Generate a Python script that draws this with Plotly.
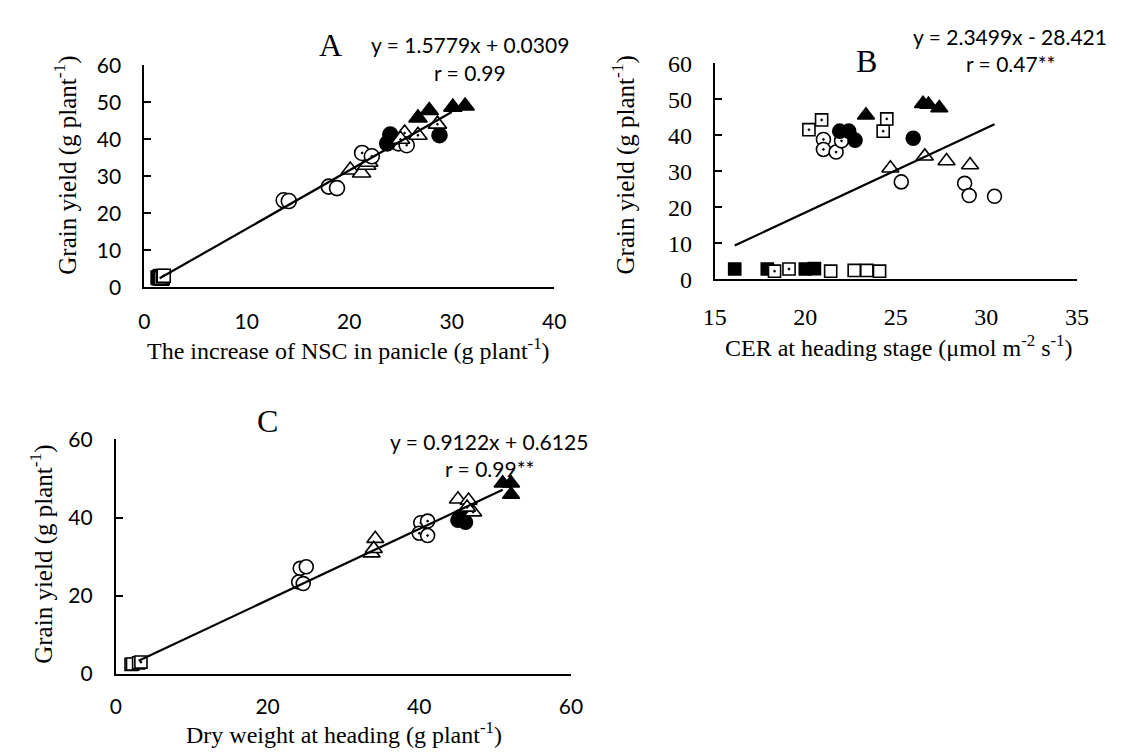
import plotly.graph_objects as go

W, H = 1121, 754

# ---------------- Panel A: increase of NSC in panicle vs grain yield ----------------
A_fsq_x = [1.3, 1.5, 1.4, 1.6]
A_fsq_y = [2.6, 2.9, 2.4, 3.0]
A_osq_x = [1.7, 1.5, 1.8, 1.6]
A_osq_y = [2.3, 2.5, 2.5, 2.4]
A_dsq_x = [1.8, 1.9]
A_dsq_y = [2.9, 3.1]
A_oci_x = [13.6, 14.1, 18.0, 18.8]
A_oci_y = [23.5, 23.3, 27.2, 26.8]
A_otr_x = [20.1, 21.2, 21.7, 21.9]
A_otr_y = [31.7, 30.9, 33.0, 33.8]
A_dci_x = [21.25, 22.2, 24.8, 25.6]
A_dci_y = [36.3, 35.4, 38.9, 38.4]
A_fci_x = [24.0, 23.7, 28.8, 24.1]
A_fci_y = [41.3, 38.9, 41.1, 40.2]
A_dtr_x = [25.4, 26.7, 28.6, 25.0]
A_dtr_y = [41.7, 41.1, 44.1, 40.0]
A_ftr_x = [26.7, 27.8, 30.1, 31.3]
A_ftr_y = [45.8, 47.8, 48.7, 49.0]
A_slope, A_int = 1.5779, 0.0309
A_fit_range = [1.5, 30.0]
A_eq = "y = 1.5779x + 0.0309"
A_r = "r = 0.99"

# ---------------- Panel B: CER at heading vs grain yield ----------------
B_fsq_x = [16.1, 17.9, 20.0, 20.5]
B_fsq_y = [2.9, 2.9, 2.9, 3.0]
B_dsql_x = [18.3, 19.1]
B_dsql_y = [2.3, 2.9]
B_osq_x = [21.4, 22.7, 23.4, 24.1]
B_osq_y = [2.3, 2.5, 2.5, 2.3]
B_dsqh_x = [20.2, 20.9, 24.3, 24.5]
B_dsqh_y = [41.6, 44.3, 41.2, 44.6]
B_dci_x = [21.0, 21.0, 21.7, 22.0]
B_dci_y = [38.9, 36.1, 35.4, 38.5]
B_fci_x = [21.9, 22.4, 22.75, 25.96]
B_fci_y = [41.2, 41.2, 38.7, 39.2]
B_ftr_x = [23.35, 26.5, 26.8, 27.4]
B_ftr_y = [45.6, 48.8, 48.6, 47.6]
B_otr_x = [24.7, 26.6, 27.8, 29.1]
B_otr_y = [30.9, 34.2, 32.9, 31.8]
B_oci_x = [25.3, 28.8, 29.05, 30.45]
B_oci_y = [27.1, 26.7, 23.3, 23.1]
B_slope, B_int = 2.3499, -28.421
B_fit_range = [16.1, 30.45]
B_eq = "y = 2.3499x - 28.421"
B_r = "r = 0.47**"

# ---------------- Panel C: dry weight at heading vs grain yield ----------------
C_osq_x = [2.0, 2.2]
C_osq_y = [2.4, 2.5]
C_dsq_x = [3.0, 3.3]
C_dsq_y = [2.8, 3.0]
C_oci_x = [24.3, 25.1, 24.1, 24.7]
C_oci_y = [27.0, 27.4, 23.5, 23.1]
C_otr_x = [34.2, 33.7, 34.0, 45.1, 46.5]
C_otr_y = [34.6, 30.9, 32.0, 44.7, 44.4]
C_dci_x = [40.2, 41.1, 40.0, 41.1]
C_dci_y = [38.7, 39.1, 36.0, 35.4]
C_fci_x = [45.1, 46.1, 45.4]
C_fci_y = [39.3, 38.8, 40.2]
C_dtr_x = [47.1, 46.3]
C_dtr_y = [41.4, 42.6]
C_ftr_x = [51.0, 52.1, 52.1]
C_ftr_y = [48.8, 48.8, 45.9]
C_slope, C_int = 0.9122, 0.6125
C_fit_range = [3.0, 51.0]
C_eq = "y = 0.9122x + 0.6125"
C_r = "r = 0.99**"

Y_TITLE = "Grain yield (g plant<sup>-1</sup>)"
XA_TITLE = "The increase of NSC in panicle (g plant<sup>-1</sup>)"
XB_TITLE = "CER at heading stage (μmol m<sup>-2</sup> s<sup>-1</sup>)"
XC_TITLE = "Dry weight at heading (g plant<sup>-1</sup>)"

STYLES = {
    "fsq": ("square", "black"),
    "osq": ("square", "white"),
    "dsq": ("square-dot", "white"),
    "oci": ("circle", "white"),
    "dci": ("circle-dot", "white"),
    "fci": ("circle", "black"),
    "otr": ("triangle-up", "white"),
    "dtr": ("triangle-up-dot", "white"),
    "ftr": ("triangle-up", "black"),
}
SIZES = {"sq": 13, "ci": 15, "tr": 16}

fig = go.Figure()


def add_pts(x, y, kind, xa, ya, scale=1.0):
    sym, col = STYLES[kind]
    fig.add_trace(go.Scatter(
        x=x, y=y, mode="markers", xaxis=xa, yaxis=ya, showlegend=False,
        cliponaxis=False,
        marker=dict(symbol=sym, color=col, size=SIZES[kind[1:]] * scale,
                    line=dict(color="black", width=1.6)),
    ))


def add_trend(rng, slope, inter, xa, ya):
    fig.add_trace(go.Scatter(
        x=rng, y=[slope * v + inter for v in rng], mode="lines",
        xaxis=xa, yaxis=ya, showlegend=False,
        line=dict(color="black", width=2.2),
    ))


# Panel A
for x, y, k in [(A_fsq_x, A_fsq_y, "fsq"), (A_osq_x, A_osq_y, "osq"), (A_dsq_x, A_dsq_y, "dsq"),
                (A_oci_x, A_oci_y, "oci"), (A_otr_x, A_otr_y, "otr"), (A_dci_x, A_dci_y, "dci"),
                (A_fci_x, A_fci_y, "fci"), (A_dtr_x, A_dtr_y, "dtr"), (A_ftr_x, A_ftr_y, "ftr")]:
    add_pts(x, y, k, "x", "y")
add_trend(A_fit_range, A_slope, A_int, "x", "y")

# Panel B
for x, y, k in [(B_fsq_x, B_fsq_y, "fsq"), (B_dsql_x, B_dsql_y, "dsq"), (B_osq_x, B_osq_y, "osq"),
                (B_dsqh_x, B_dsqh_y, "dsq"), (B_dci_x, B_dci_y, "dci"), (B_fci_x, B_fci_y, "fci"),
                (B_ftr_x, B_ftr_y, "ftr"), (B_otr_x, B_otr_y, "otr"), (B_oci_x, B_oci_y, "oci")]:
    add_pts(x, y, k, "x2", "y2", 0.93)
add_trend(B_fit_range, B_slope, B_int, "x2", "y2")

# Panel C
for x, y, k in [(C_osq_x, C_osq_y, "osq"), (C_dsq_x, C_dsq_y, "dsq"), (C_oci_x, C_oci_y, "oci"),
                (C_otr_x, C_otr_y, "otr"), (C_dci_x, C_dci_y, "dci"), (C_fci_x, C_fci_y, "fci"),
                (C_dtr_x, C_dtr_y, "dtr"), (C_ftr_x, C_ftr_y, "ftr")]:
    add_pts(x, y, k, "x3", "y3", 0.93)
add_trend(C_fit_range, C_slope, C_int, "x3", "y3")


def px(v):
    return v / W


def py(v):
    return 1 - v / H


SANS = "Lato, Calibri, 'Noto Sans', sans-serif"
SERIF = "'Liberation Serif', 'Times New Roman', serif"

common_x = dict(showline=True, linecolor="black", linewidth=2, showgrid=False, zeroline=False,
                ticks="", fixedrange=True)
common_y = dict(showline=True, linecolor="black", linewidth=2, showgrid=False, zeroline=False,
                ticks="inside", ticklen=7, tickwidth=2, tickcolor="black", fixedrange=True)

fig.update_layout(
    width=W, height=H, margin=dict(l=0, r=0, t=0, b=0),
    paper_bgcolor="white", plot_bgcolor="white", showlegend=False,
    xaxis=dict(common_x, domain=[px(127), px(546)], range=[0, 40], dtick=10, anchor="y",
               tickfont=dict(family=SANS, size=21, color="black"), ticklabelstandoff=15),
    yaxis=dict(common_y, domain=[py(275), py(45)], range=[0, 60], dtick=10, anchor="x",
               tickfont=dict(family=SANS, size=21, color="black"), ticklabelstandoff=17),
    xaxis2=dict(common_x, domain=[px(710), px(1080)], range=[15, 35], dtick=5, anchor="y2",
                tickfont=dict(family=SERIF, size=24, color="black"), ticklabelstandoff=15),
    yaxis2=dict(common_y, domain=[py(267), py(43)], range=[0, 60], dtick=10, anchor="x2",
                tickfont=dict(family=SERIF, size=24, color="black"), ticklabelstandoff=16),
    xaxis3=dict(common_x, domain=[px(98), px(563)], range=[0, 60], dtick=20, anchor="y3",
                tickfont=dict(family=SANS, size=21, color="black"), ticklabelstandoff=13),
    yaxis3=dict(common_y, domain=[py(676), py(433)], range=[0, 60], dtick=20, anchor="x3",
                tickfont=dict(family=SANS, size=21, color="black"), ticklabelstandoff=17),
)


def ann(text, x, y, family, size, angle=0):
    fig.add_annotation(text=text, x=px(x), y=py(y), xref="paper", yref="paper",
                       xanchor="center", yanchor="middle", showarrow=False, textangle=angle,
                       font=dict(family=family, size=size, color="black"))


# panel letters
ann("A", 317, 24, SERIF, 32)
ann("B", 865, 40, SERIF, 32)
ann("C", 253, 414, SERIF, 32)
# equations
ann(A_eq, 460, 23, SANS, 21)
ann(A_r, 460, 52, SANS, 21)
ann(B_eq, 1012, 15, SANS, 21)
ann(B_r, 1012, 43, SANS, 21)
ann(C_eq, 479, 435, SANS, 21)
ann(C_r, 480, 463, SANS, 21)
# axis titles
ann(XA_TITLE, 336, 339, SERIF, 24)
ann(XB_TITLE, 898, 336, SERIF, 24)
ann(XC_TITLE, 331, 737, SERIF, 24)
ann(Y_TITLE, 47, 148, SERIF, 25, -90)
ann(Y_TITLE, 617, 148, SERIF, 25, -90)
ann(Y_TITLE, 22, 552, SERIF, 25, -90)

fig.write_html("out.html")
